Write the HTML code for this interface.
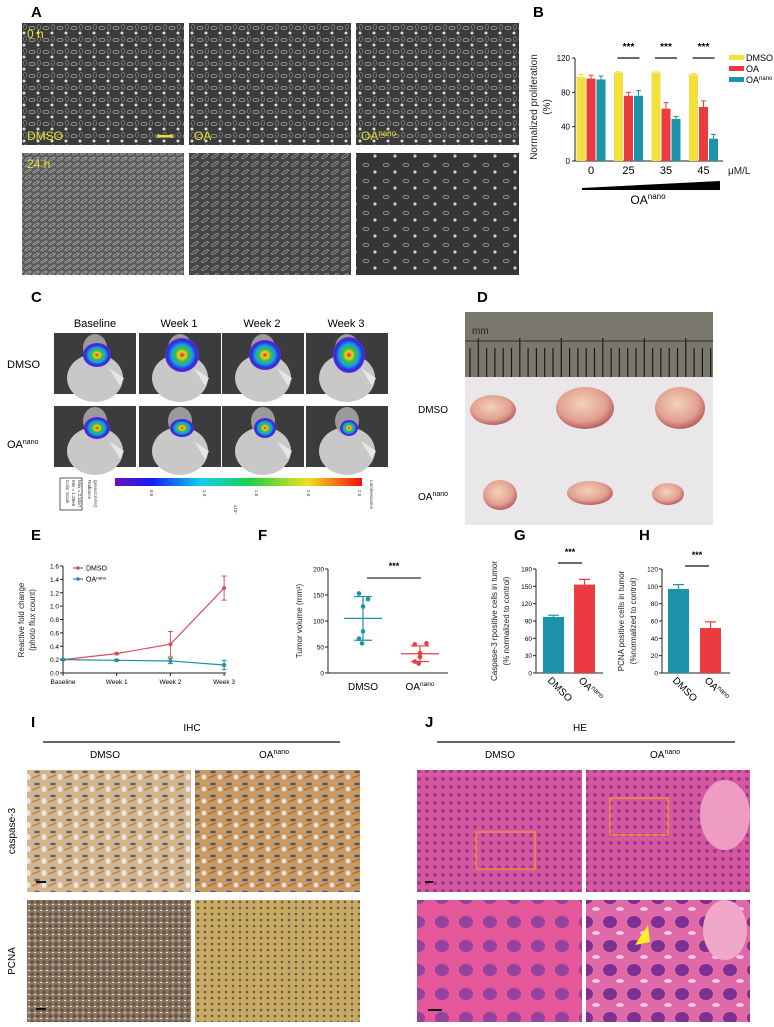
<!DOCTYPE html>
<html><head><meta charset="utf-8"><style>
html,body{margin:0;padding:0;background:#fff;}
svg{display:block;font-family:"Liberation Sans",sans-serif;}
.lbl{font-weight:bold;font-size:15px;}
.t{font-size:10px;fill:#222;}
.s{font-size:8px;fill:#222;}
</style></head><body>
<svg id="fig" width="774" height="1027" viewBox="0 0 774 1027" xmlns="http://www.w3.org/2000/svg">
<defs>
 <pattern id="cells" width="14" height="12" patternUnits="userSpaceOnUse">
  <rect width="14" height="12" fill="#3b3b3b"/>
  <ellipse cx="4" cy="4" rx="3" ry="1.6" fill="none" stroke="#aaa" stroke-width="0.8"/>
  <circle cx="10" cy="9" r="1.5" fill="#ddd"/>
  <ellipse cx="11" cy="3" rx="1.6" ry="2.5" fill="none" stroke="#888" stroke-width="0.7"/>
 </pattern>
 <pattern id="cellsDense" width="8" height="6" patternUnits="userSpaceOnUse">
  <rect width="8" height="6" fill="#5c5c5c"/>
  <ellipse cx="4" cy="3" rx="3.5" ry="1" fill="none" stroke="#bbb" stroke-width="0.7" transform="rotate(-30 4 3)"/>
 </pattern>
 <pattern id="cellsMid" width="10" height="8" patternUnits="userSpaceOnUse">
  <rect width="10" height="8" fill="#454545"/>
  <ellipse cx="5" cy="4" rx="4" ry="1.2" fill="none" stroke="#aaa" stroke-width="0.7" transform="rotate(-35 5 4)"/>
 </pattern>
 <pattern id="cellsSparse" width="20" height="16" patternUnits="userSpaceOnUse">
  <rect width="20" height="16" fill="#353535"/>
  <ellipse cx="6" cy="5" rx="3" ry="1.5" fill="none" stroke="#aaa" stroke-width="0.8"/>
  <circle cx="15" cy="12" r="1.6" fill="#ccc"/>
 </pattern>
 <pattern id="casp" width="16" height="12" patternUnits="userSpaceOnUse">
  <rect width="16" height="12" fill="#d4b68e"/>
  <ellipse cx="5" cy="4" rx="3" ry="1.4" fill="#5a6288"/>
  <ellipse cx="12" cy="9" rx="2.5" ry="3" fill="#e8e6e6"/>
  <path d="M0 10 L8 7" stroke="#c0843e" stroke-width="1.5"/>
 </pattern>
 <pattern id="casp2" width="16" height="12" patternUnits="userSpaceOnUse">
  <rect width="16" height="12" fill="#c99a62"/>
  <ellipse cx="5" cy="4" rx="3" ry="1.4" fill="#4f577b"/>
  <ellipse cx="12" cy="9" rx="2.4" ry="2.5" fill="#e6e4e4"/>
  <path d="M0 10 L8 7" stroke="#b8732e" stroke-width="1.5"/>
 </pattern>
 <pattern id="pcna1" width="6" height="6" patternUnits="userSpaceOnUse">
  <rect width="6" height="6" fill="#8c7762"/>
  <circle cx="2" cy="2" r="1.6" fill="#5d4c46"/>
  <rect x="4" y="4" width="2" height="1" fill="#eadfc8"/>
 </pattern>
 <pattern id="pcna2" width="7" height="6" patternUnits="userSpaceOnUse">
  <rect width="7" height="6" fill="#c9aa62"/>
  <circle cx="2" cy="2" r="1.3" fill="#6a5a52"/>
 </pattern>
 <pattern id="he1" width="8" height="8" patternUnits="userSpaceOnUse">
  <rect width="8" height="8" fill="#d9579c"/>
  <circle cx="3" cy="3" r="2" fill="#9a3c9c"/>
 </pattern>
 <pattern id="he2" width="24" height="24" patternUnits="userSpaceOnUse">
  <rect width="24" height="24" fill="#e4589a"/>
  <ellipse cx="10" cy="10" rx="7" ry="6" fill="#93429e"/>
 </pattern>
 <pattern id="he3" width="24" height="24" patternUnits="userSpaceOnUse">
  <rect width="24" height="24" fill="#e06aa8"/>
  <ellipse cx="10" cy="10" rx="7" ry="6" fill="#7e2f92"/>
  <ellipse cx="20" cy="21" rx="4" ry="2" fill="#f2c8e4"/>
 </pattern>
 <radialGradient id="lum" cx="50%" cy="50%" r="50%">
  <stop offset="0" stop-color="#e0201a"/>
  <stop offset="0.2" stop-color="#f0d020"/>
  <stop offset="0.4" stop-color="#30c040"/>
  <stop offset="0.6" stop-color="#20a0e0"/>
  <stop offset="0.85" stop-color="#2030e0"/>
  <stop offset="1" stop-color="#8020d0"/>
 </radialGradient>
 <linearGradient id="cbar" x1="0" x2="1">
  <stop offset="0" stop-color="#6a10c0"/><stop offset="0.15" stop-color="#1020f0"/>
  <stop offset="0.35" stop-color="#10d0f0"/><stop offset="0.55" stop-color="#20d040"/>
  <stop offset="0.78" stop-color="#f0e020"/><stop offset="1" stop-color="#f01010"/>
 </linearGradient>
 <radialGradient id="tum" cx="45%" cy="40%" r="60%">
  <stop offset="0" stop-color="#f3d2b8"/><stop offset="0.7" stop-color="#e1a090"/><stop offset="1" stop-color="#b86060"/>
 </radialGradient>
</defs>

<!-- Panel A -->
<g>
 <text class="lbl" x="31" y="17">A</text>
 <rect x="22" y="23" width="162" height="122" fill="url(#cells)"/>
 <rect x="189" y="23" width="162" height="122" fill="url(#cells)"/>
 <rect x="356" y="23" width="163" height="122" fill="url(#cells)"/>
 <rect x="22" y="153" width="162" height="122" fill="url(#cellsDense)"/>
 <rect x="189" y="153" width="162" height="122" fill="url(#cellsMid)"/>
 <rect x="356" y="153" width="163" height="122" fill="url(#cellsSparse)"/>
 <g fill="#e8e030" font-size="12">
  <text x="27" y="38">0 h</text>
  <text x="27" y="168">24 h</text>
  <text x="27" y="140">DMSO</text>
  <text x="194" y="140">OA</text>
  <text x="361" y="140">OA<tspan font-size="8" dy="-4">nano</tspan></text>
 </g>
 <rect x="157" y="135" width="16" height="2.5" fill="#e8e030"/>
</g>

<!-- Panel B -->
<g id="panelB">
 <text class="lbl" x="533" y="17">B</text>
 <text class="t" transform="translate(537,107) rotate(-90)" text-anchor="middle">Normalized proliferation</text>
 <text class="t" transform="translate(550,107) rotate(-90)" text-anchor="middle">(%)</text>
 <text class="t" x="728" y="174">μM/L</text>
 <polygon points="582,188 720,181 720,190 582,190" fill="#000"/>
 <text x="648" y="204" font-size="12" text-anchor="middle">OA<tspan font-size="8" dy="-5">nano</tspan></text>
</g>

<!-- Panel C -->
<g>
 <text class="lbl" x="31" y="302">C</text>
 <g font-size="11" text-anchor="middle">
  <text x="95" y="327">Baseline</text>
  <text x="179" y="327">Week 1</text>
  <text x="262" y="327">Week 2</text>
  <text x="346" y="327">Week 3</text>
 </g>
 <text x="7" y="368" font-size="11">DMSO</text>
 <text x="7" y="448" font-size="11">OA<tspan font-size="7" dy="-4">nano</tspan></text>
 <g id="mice"></g>
 <rect x="115" y="478" width="247" height="8" fill="url(#cbar)"/>
 <rect x="60" y="478" width="22" height="32" fill="none" stroke="#333" stroke-width="0.8"/>
 <g font-size="4.5" fill="#333">
  <text transform="translate(66,480) rotate(90)">Color Scale</text>
  <text transform="translate(72,480) rotate(90)">Min = 1.38e6</text>
  <text transform="translate(78,480) rotate(90)">Max = 2.53e7</text>
  <text transform="translate(88,480) rotate(90)">Radiance</text>
  <text transform="translate(94,480) rotate(90)">(p/sec/cm²/sr)</text>
  <text transform="translate(370,480) rotate(90)">Luminescence</text>
  <text transform="translate(150,490) rotate(90)">0.5</text>
  <text transform="translate(203,490) rotate(90)">1.0</text>
  <text transform="translate(255,490) rotate(90)">1.5</text>
  <text transform="translate(307,490) rotate(90)">2.0</text>
  <text transform="translate(358,490) rotate(90)">2.5</text>
  <text transform="translate(234,505) rotate(90)">x10⁷</text>
 </g>
</g>

<!-- Panel D -->
<g>
 <text class="lbl" x="477" y="302">D</text>
 <rect x="465" y="377" width="248" height="148" fill="#e9e7ea"/>
 <rect x="465" y="312" width="248" height="65" fill="#7a786c"/>
 <g id="ruler"></g>
 <text x="472" y="334" font-size="10" fill="#222">mm</text>
 <g fill="url(#tum)">
  <ellipse cx="493" cy="410" rx="23" ry="15"/>
  <ellipse cx="585" cy="408" rx="29" ry="21"/>
  <ellipse cx="680" cy="408" rx="25" ry="21"/>
  <ellipse cx="500" cy="495" rx="17" ry="15"/>
  <ellipse cx="590" cy="493" rx="23" ry="12"/>
  <ellipse cx="668" cy="494" rx="16" ry="11"/>
 </g>
 <text x="418" y="413" font-size="10">DMSO</text>
 <text x="418" y="500" font-size="10">OA<tspan font-size="7" dy="-4">nano</tspan></text>
</g>

<!-- Panels E-H -->
<text class="lbl" x="31" y="540">E</text>
<text class="lbl" x="258" y="540">F</text>
<text class="lbl" x="514" y="540">G</text>
<text class="lbl" x="639" y="540">H</text>
<g id="panelE">
 <text class="s" transform="translate(24,620) rotate(-90)" text-anchor="middle">Reactive fold change</text>
 <text class="s" transform="translate(35,620) rotate(-90)" text-anchor="middle">(photo flux count)</text>
</g>
<g id="panelF">
 <text class="s" transform="translate(302,621) rotate(-90)" text-anchor="middle">Tumor volume (mm³)</text>
</g>
<g id="panelG">
 <text class="s" transform="translate(497,621) rotate(-90)" text-anchor="middle">Caspase-3 rpositive cells in tumor</text>
 <text class="s" transform="translate(509,621) rotate(-90)" text-anchor="middle">(% normalized to control)</text>
</g>
<g id="panelH">
 <text class="s" transform="translate(624,621) rotate(-90)" text-anchor="middle">PCNA positive cells in tumor</text>
 <text class="s" transform="translate(636,621) rotate(-90)" text-anchor="middle">(%normalized to control)</text>
</g>

<!-- Panel I -->
<g>
 <text class="lbl" x="31" y="727">I</text>
 <text x="192" y="731" font-size="10" text-anchor="middle">IHC</text>
 <line x1="43" y1="742" x2="340" y2="742" stroke="#333" stroke-width="1.5"/>
 <text x="105" y="758" font-size="10" text-anchor="middle">DMSO</text>
 <text x="274" y="758" font-size="10" text-anchor="middle">OA<tspan font-size="7" dy="-4">nano</tspan></text>
 <rect x="27" y="770" width="164" height="122" fill="url(#casp)"/>
 <rect x="195" y="770" width="165" height="122" fill="url(#casp2)"/>
 <rect x="27" y="900" width="164" height="122" fill="url(#pcna1)"/>
 <rect x="195" y="900" width="165" height="122" fill="url(#pcna2)"/>
 <rect x="36" y="881" width="10" height="2" fill="#111"/>
 <rect x="36" y="1008" width="10" height="2" fill="#111"/>
 <text transform="translate(15,831) rotate(-90)" font-size="10" text-anchor="middle">caspase-3</text>
 <text transform="translate(15,961) rotate(-90)" font-size="10" text-anchor="middle">PCNA</text>
</g>

<!-- Panel J -->
<g>
 <text class="lbl" x="425" y="727">J</text>
 <text x="580" y="731" font-size="10" text-anchor="middle">HE</text>
 <line x1="437" y1="742" x2="735" y2="742" stroke="#333" stroke-width="1.5"/>
 <text x="500" y="758" font-size="10" text-anchor="middle">DMSO</text>
 <text x="665" y="758" font-size="10" text-anchor="middle">OA<tspan font-size="7" dy="-4">nano</tspan></text>
 <rect x="417" y="770" width="165" height="122" fill="url(#he1)"/>
 <rect x="586" y="770" width="164" height="122" fill="url(#he1)"/>
 <ellipse cx="725" cy="815" rx="25" ry="35" fill="#ee9cc4"/>
 <rect x="417" y="900" width="165" height="122" fill="url(#he2)"/>
 <rect x="586" y="900" width="164" height="122" fill="url(#he3)"/>
 <ellipse cx="725" cy="930" rx="22" ry="30" fill="#f0a8c8"/>
 <rect x="476" y="832" width="59" height="37" fill="none" stroke="#f0a020" stroke-width="1.2"/>
 <rect x="610" y="798" width="58" height="37" fill="none" stroke="#f0a020" stroke-width="1.2"/>
 <polygon points="648,925 635,945 650,942" fill="#f5f020"/>
 <rect x="425" y="881" width="8" height="2" fill="#111"/>
 <rect x="428" y="1009" width="14" height="2" fill="#111"/>
</g>
</svg>
<script>
var NS='http://www.w3.org/2000/svg';
function mk(tag,attrs,parent){var e=document.createElementNS(NS,tag);for(var k in attrs)e.setAttribute(k,attrs[k]);parent.appendChild(e);return e;}
function line(p,x1,y1,x2,y2,c,w){return mk('line',{x1:x1,y1:y1,x2:x2,y2:y2,stroke:c,'stroke-width':w||1},p);}
function txt(p,x,y,s,opt){var t=mk('text',Object.assign({x:x,y:y},opt||{}),p);t.textContent=s;return t;}

/* ---------- Panel B data ---------- */
var bCategories=['0','25','35','45'];
var bDMSO=[98,103,103,101];
var bOA=[96,76,61,63];
var bOAnano=[95,76,49,26];
var bErrDMSO=[3,1,1,1];
var bErrOA=[4,4,7,7];
var bErrOAnano=[4,6,3,5];
var bTicks=[0,40,80,120];
var bSig=['***','***','***'];
/* ---------- Panel E data ---------- */
var eCategories=['Baseline','Week 1','Week 2','Week 3'];
var eDMSO=[0.2,0.29,0.43,1.27];
var eErrDMSO=[0.01,0.01,0.19,0.18];
var eOAnano=[0.2,0.19,0.18,0.12];
var eErrOAnano=[0.01,0.01,0.04,0.07];
var eTicks=[0,0.2,0.4,0.6,0.8,1.0,1.2,1.4,1.6];
/* ---------- Panel F data ---------- */
var fCategories=['DMSO','OAnano'];
var fDMSO=[153,142,128,80,66,57];
var fOAnano=[55,57,38,31,22,18];
var fMean=[105,37];
var fSD=[42,15];
var fTicks=[0,50,100,150,200];
/* ---------- Panel G / H data ---------- */
var gCategories=['DMSO','OAnano'];
var gValues=[97,153];
var gErr=[3,9];
var gTicks=[0,30,60,90,120,150,180];
var hCategories=['DMSO','OAnano'];
var hValues=[97,52];
var hErr=[5,7];
var hTicks=[0,20,40,60,80,100,120];

var YEL='#f3e03c',RED='#ec3b40',TEAL='#1b93a8';

/* Panel B */
(function(){
 var g=document.getElementById('panelB');
 var x0=575,x1=723,y0=161,y1=58,max=120;
 function ys(v){return y0-(v/max)*(y0-y1);}
 function xc(i){return 591+i*37.5;}
 line(g,x0,y1,x0,y0,'#222',1);line(g,x0,y0,x1,y0,'#222',1);
 bTicks.forEach(function(t){line(g,x0-3,ys(t),x0,ys(t),'#222',1);var l=txt(g,x0-5,ys(t)+3,String(t),{'font-size':8,'text-anchor':'end'});
 
 });
 var series=[[bDMSO,bErrDMSO,YEL,'dmso'],[bOA,bErrOA,RED,'oa'],[bOAnano,bErrOAnano,TEAL,'oanano']];
 bCategories.forEach(function(c,i){
  series.forEach(function(s,j){
   var bx=xc(i)-14.5+j*10,v=s[0][i],e=s[1][i];
   var r=mk('rect',{x:bx,y:ys(v),width:9,height:y0-ys(v),fill:s[2]},g);
   
   
   line(g,bx+4.5,ys(v),bx+4.5,ys(v+e),s[2],1);line(g,bx+2,ys(v+e),bx+7,ys(v+e),s[2],1);
  });
  var l=txt(g,xc(i),174,c,{'font-size':11,'text-anchor':'middle'});
  
  
 });
 bSig.forEach(function(s,i){
  line(g,xc(i+1)-11,58,xc(i+1)+11,58,'#111',1.2);
  var t=txt(g,xc(i+1),50,s,{'font-size':10,'text-anchor':'middle','font-weight':'bold'});
  
  
 });
 var legend=[['DMSO',YEL],['OA',RED],['OA',TEAL]];
 legend.forEach(function(L,i){
  var r=mk('rect',{x:729,y:55+i*11,width:15,height:5,fill:L[1]},g);
  
  
  var t=txt(g,746,61+i*11,L[0],{'font-size':9});
  
  
  if(i==2){var ts=mk('tspan',{'font-size':6,dy:-3},t);ts.textContent='nano';}
 });
})();

/* Panel C mice */
(function(){
 var g=document.getElementById('mice');
 var xs=[54,139,222,306],ys=[333,406];
 var sizes=[[[14,12],[17,17],[16,15],[16,18]],[[13,11],[12,9],[11,10],[9,8]]];
 ys.forEach(function(y,r){xs.forEach(function(x,c){
  var rc=mk('rect',{x:x,y:y,width:82,height:61,fill:'#3c3c3c'},g);
  
  
  mk('ellipse',{cx:x+41,cy:y+45,rx:28,ry:24,fill:'#c8c8c8'},g);
  mk('ellipse',{cx:x+41,cy:y+15,rx:12,ry:14,fill:'#9a9a9a'},g);
  mk('path',{d:'M'+(x+55)+' '+(y+35)+' l15 10 l-4 8 z',fill:'#e6e6e6'},g);
  var s=sizes[r][c];
  var b=mk('ellipse',{cx:x+43,cy:y+22,rx:s[0],ry:s[1],fill:'url(#lum)'},g);
  
  
 });});
})();
/* ruler ticks */
(function(){
 var g=document.getElementById('ruler');
 for(var i=0;i<30;i++){var x=470+i*8.3;var long=(i%5==1);
  line(g,x,long?338:348,x,377,'#1a1a1a',1.2);}
 line(g,465,341,713,341,'#2a2a2a',1);
})();

/* Panel E */
(function(){
 var g=document.getElementById('panelE');
 var x0=63,y0=673,y1=566,max=1.6;
 function ys(v){return y0-(v/max)*(y0-y1);}
 function xs(i){return 63+i*53.7;}
 line(g,x0,y1,x0,y0,'#222',1);line(g,x0,y0,226,y0,'#222',1);
 eTicks.forEach(function(t){line(g,x0-3,ys(t),x0,ys(t),'#222',1);var l=txt(g,x0-4,ys(t)+2.5,t.toFixed(1),{'font-size':6.5,'text-anchor':'end'});
 
 });
 eCategories.forEach(function(c,i){line(g,xs(i),y0,xs(i),y0+3,'#222',1);var l=txt(g,xs(i),684,c,{'font-size':6.5,'text-anchor':'middle'});
 
 });
 [[eDMSO,eErrDMSO,'#d9505a','dmso'],[eOAnano,eErrOAnano,'#1f8fa0','oanano']].forEach(function(s){
  var pts=s[0].map(function(v,i){return xs(i)+','+ys(v);}).join(' ');
  var pl=mk('polyline',{points:pts,fill:'none',stroke:s[2],'stroke-width':1.2},g);
  
  
  s[0].forEach(function(v,i){var e=s[1][i];
   line(g,xs(i),ys(v-e),xs(i),ys(v+e),s[2],1);line(g,xs(i)-2.5,ys(v+e),xs(i)+2.5,ys(v+e),s[2],1);line(g,xs(i)-2.5,ys(v-e),xs(i)+2.5,ys(v-e),s[2],1);
   var c=mk('circle',{cx:xs(i),cy:ys(v),r:2,fill:s[2]},g);
   
   
  });
 });
 [['DMSO','#d9505a'],['OA','#1f8fa0']].forEach(function(L,i){
  var y=568+i*11;line(g,73,y,83,y,L[1],1.2);mk('circle',{cx:78,cy:y,r:1.8,fill:L[1]},g);
  var t=txt(g,86,y+2.5,L[0],{'font-size':7});
  
  
  if(i==1){var ts=mk('tspan',{'font-size':4.5,dy:-2},t);ts.textContent='nano';}
 });
})();

/* Panel F */
(function(){
 var g=document.getElementById('panelF');
 var x0=328,y0=673,y1=569,max=200;
 function ys(v){return y0-(v/max)*(y0-y1);}
 var xc=[363,420];
 line(g,x0,y1,x0,y0,'#222',1);line(g,x0,y0,448,y0,'#222',1);
 fTicks.forEach(function(t){line(g,x0-3,ys(t),x0,ys(t),'#222',1);var l=txt(g,x0-4,ys(t)+2.5,String(t),{'font-size':6.5,'text-anchor':'end'});
 
 });
 var jit=[-4,5,0,0,-4,-1];
 [[fDMSO,TEAL,'dmso'],[fOAnano,RED,'oanano']].forEach(function(s,k){
  s[0].forEach(function(v,i){var c=mk('circle',{cx:xc[k]+jit[i]*(k?1.3:1),cy:ys(v),r:2.3,fill:s[1]},g);
   
   });
  var m=fMean[k],sd=fSD[k];
  line(g,xc[k]-19,ys(m),xc[k]+19,ys(m),s[1],1.2);
  line(g,xc[k]-9,ys(m+sd),xc[k]+9,ys(m+sd),s[1],1.2);
  line(g,xc[k]-9,ys(m-sd),xc[k]+9,ys(m-sd),s[1],1.2);
  line(g,xc[k],ys(m-sd),xc[k],ys(m+sd),s[1],1.2);
 });
 line(g,367,578,421,578,'#333',1.2);
 txt(g,394,569,'***',{'font-size':9,'text-anchor':'middle','font-weight':'bold'});
 var a=txt(g,xc[0],690,'DMSO',{'font-size':10,'text-anchor':'middle'});
 
 
 var b=txt(g,xc[1],690,'OA',{'font-size':10,'text-anchor':'middle'});
 
 
 var ts=mk('tspan',{'font-size':6.5,dy:-4},b);ts.textContent='nano';
})();

/* Panels G and H */
function barPanel(id,cats,vals,errs,ticks,x0,xEnd,max,barX,sig,name){
 var g=document.getElementById(id);
 var y0=673,y1=569;
 function ys(v){return y0-(v/max)*(y0-y1);}
 line(g,x0,y1,x0,y0,'#222',1);line(g,x0,y0,xEnd,y0,'#222',1);
 ticks.forEach(function(t){line(g,x0-3,ys(t),x0,ys(t),'#222',1);var l=txt(g,x0-4,ys(t)+2.5,String(t),{'font-size':6.5,'text-anchor':'end'});
 
 });
 var cols=[TEAL,RED];
 cats.forEach(function(c,i){
  var v=vals[i],e=errs[i],bx=barX[i];
  var r=mk('rect',{x:bx,y:ys(v),width:21,height:y0-ys(v),fill:cols[i]},g);
  
  
  line(g,bx+10.5,ys(v),bx+10.5,ys(v+e),cols[i],1.2);line(g,bx+5,ys(v+e),bx+16,ys(v+e),cols[i],1.2);
  var t=txt(g,0,0,c==='OAnano'?'OA':c,{'font-size':10,transform:'translate('+(bx+4)+',681) rotate(45)'});
  
  
  if(c==='OAnano'){var ts=mk('tspan',{'font-size':6.5,dy:-4},t);ts.textContent='nano';}
 });
 line(g,sig[0],sig[2],sig[1],sig[2],'#111',1.2);
 txt(g,(sig[0]+sig[1])/2,sig[2]-8,'***',{'font-size':9,'text-anchor':'middle','font-weight':'bold'});
}
barPanel('panelG',gCategories,gValues,gErr,gTicks,536,603,180,[543,574],[558,582,563],'g');
barPanel('panelH',hCategories,hValues,hErr,hTicks,662,730,120,[668,700],[685,709,566],'h');
</script>
</body></html>
